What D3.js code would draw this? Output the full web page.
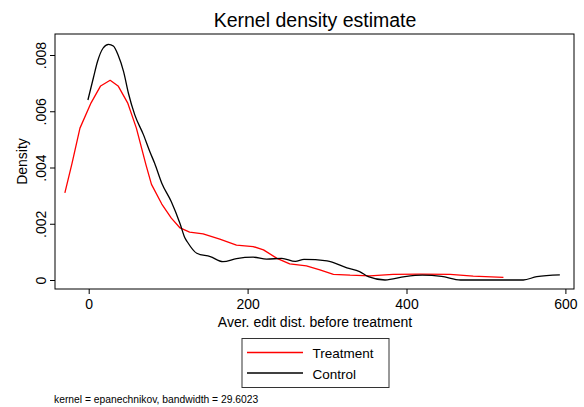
<!DOCTYPE html>
<html><head><meta charset="utf-8">
<script src="https://cdn.jsdelivr.net/npm/d3@7"></script>
<style>
html,body{margin:0;padding:0;background:#fff;}
text{font-family:"Liberation Sans",Arial,Helvetica,sans-serif;fill:#000;}
</style></head>
<body>
<script>
// ---- data ----
const treatX = [-30,-21,-11,3,15,27,37,49,60,72,79,92,104,115,127,144,165,186,207,220,237,253,274,291,308,329,354,383,417,455,484,522];
const treatY = [0.0031,0.00415,0.0054,0.0063,0.0069,0.0071,0.0069,0.0063,0.0054,0.0041,0.0034,0.0027,0.0022,0.00185,0.0017,0.00164,0.00145,0.00124,0.00119,0.00107,0.00077,0.00057,0.0005,0.00036,0.0002,0.00017,0.00015,0.0002,0.00021,0.0002,0.00014,0.00009];
const ctrlX = [-1,6,11,18,25,31,37,44,50,58,69,77,83,92,104,115,121,124,136,153,169,186,207,224,243,260,271,300,325,341,352,373,398,420,444,468,547,564,593];
const ctrlY = [0.0064,0.0072,0.00776,0.00824,0.00838,0.00832,0.0080,0.0074,0.00664,0.00587,0.00516,0.00456,0.00415,0.00344,0.00278,0.002,0.0015,0.00136,0.00095,0.00083,0.00065,0.00076,0.00081,0.00074,0.00077,0.00066,0.00073,0.00068,0.00043,0.0003,0.00012,0.0,0.00012,0.00017,0.00013,0.0,0.0,0.00012,0.00018];
const xTicks = [0,200,400,600];
const yTicks = [0,0.002,0.004,0.006,0.008];
const yTickLabels = ["0",".002",".004",".006",".008"];
const seriesNames = ["Treatment","Control"];
const seriesColors = ["#ff0000","#000000"];

// ---- layout ----
const W=584,H=407;
const L=55,T=34,R=574,B=289;
const svg=d3.select("body").append("svg").attr("width",W).attr("height",H);
svg.append("rect").attr("width",W).attr("height",H).attr("fill","#fff");

const x=d3.scaleLinear().domain([0,600]).range([88.7,565.4]);
const y=d3.scaleLinear().domain([0,0.008]).range([280,55]);

// frame
svg.append("rect").attr("x",L).attr("y",T).attr("width",R-L).attr("height",B-T)
  .attr("fill","none").attr("stroke","#000").attr("stroke-width",1);

// x axis
const xa=svg.append("g").attr("transform",`translate(0,${B})`)
  .call(d3.axisBottom(x).tickValues(xTicks).tickSize(5).tickPadding(6).tickFormat(d3.format("d")));
xa.select(".domain").remove();
xa.selectAll("text").attr("font-size",14).attr("font-family","Liberation Sans, Arial, sans-serif").attr("dy","0.71em").attr("y",10);
xa.selectAll("line").attr("stroke","#000");

// y axis
const ya=svg.append("g").attr("transform",`translate(${L},0)`)
  .call(d3.axisLeft(y).tickValues(yTicks).tickSize(5).tickFormat((d,i)=>yTickLabels[i]));
ya.select(".domain").remove();
ya.selectAll("line").attr("stroke","#000");
ya.selectAll("text").attr("font-size",14).attr("font-family","Liberation Sans, Arial, sans-serif")
  .attr("x",null).attr("dy",null)
  .attr("text-anchor","middle")
  .attr("transform","translate(-9.5,0) rotate(-90)");

// lines
const curves=[d3.curveLinear, d3.curveMonotoneX];
const series=[d3.zip(treatX,treatY), d3.zip(ctrlX,ctrlY)];
series.forEach((s,i)=>{
  const line=d3.line().x(d=>x(d[0])).y(d=>y(d[1])).curve(curves[i]);
  svg.append("path").datum(s).attr("d",line).attr("fill","none")
    .attr("stroke",seriesColors[i]).attr("stroke-width",1.3).attr("stroke-linejoin","round");
});

// titles
svg.append("text").attr("x",315).attr("y",27.3).attr("text-anchor","middle")
  .attr("font-size",19.5).text("Kernel density estimate");
svg.append("text").attr("x",315).attr("y",327).attr("text-anchor","middle")
  .attr("font-size",14).text("Aver. edit dist. before treatment");
svg.append("text").attr("transform","translate(27,161.5) rotate(-90)").attr("text-anchor","middle")
  .attr("font-size",14).text("Density");

// legend
const lg=svg.append("g");
lg.append("rect").attr("x",242).attr("y",338.5).attr("width",147).attr("height",49)
  .attr("fill","#fff").attr("stroke","#333").attr("stroke-width",1);
seriesNames.forEach((n,i)=>{
  const yy=352.5+i*20.5;
  lg.append("line").attr("x1",247).attr("x2",303).attr("y1",yy).attr("y2",yy)
    .attr("stroke",seriesColors[i]).attr("stroke-width",1.3);
  lg.append("text").attr("x",312.5).attr("y",yy+5.5).attr("font-size",13.5).text(n);
});

// note
svg.append("text").attr("x",54).attr("y",402.5).attr("font-size",10.3)
  .text("kernel = epanechnikov, bandwidth = 29.6023");
</script>
</body></html>
